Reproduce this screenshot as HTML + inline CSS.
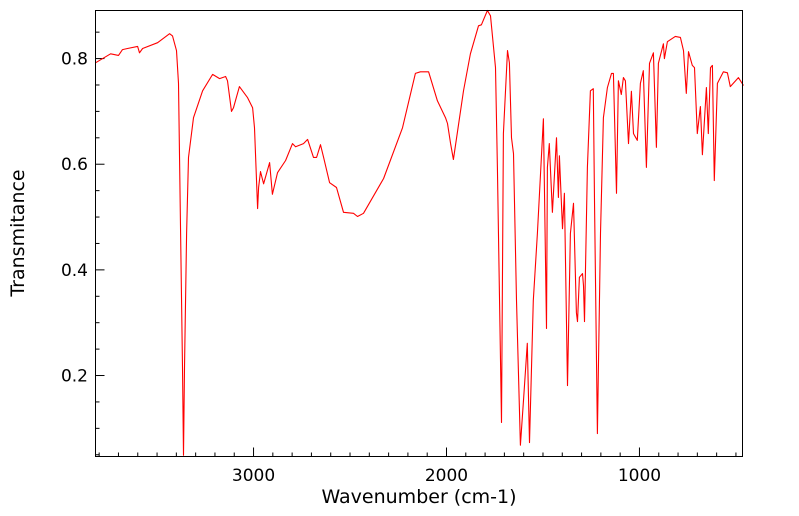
<!DOCTYPE html>
<html><head><meta charset="utf-8"><style>
html,body{margin:0;padding:0;background:#fff;}
svg{display:block;font-family:"DejaVu Sans","Liberation Sans",sans-serif;}
</style></head><body>
<svg id="chart" width="799" height="516">
<g id="ticks"></g>
<polyline id="line" fill="none" stroke="#ff0000" stroke-width="1.1" stroke-linejoin="round"></polyline>
<rect x="95.5" y="10.5" width="647" height="446" fill="none" stroke="#000" stroke-width="1"></rect>
<text x="419" y="503" font-size="19" text-anchor="middle">Wavenumber (cm-1)</text>
<text x="0" y="0" font-size="19" text-anchor="middle" transform="translate(24,233) rotate(-90)">Transmitance</text>
</svg>
<script>
const wavenumbers=[3819,3741,3700,3679,3653,3601,3591,3575,3497,3435,3420,3399,3389,3378,3368,3363,3358,3347,3337,3311,3264,3212,3176,3145,3135,3114,3104,3073,3031,3005,2995,2979,2974,2964,2948,2917,2902,2876,2834,2798,2782,2741,2720,2689,2673,2653,2637,2606,2570,2534,2482,2461,2430,2326,2228,2161,2135,2093,2047,2005,1995,1979,1964,1912,1876,1834,1819,1788,1772,1746,1736,1715,1705,1684,1674,1663,1653,1637,1617,1601,1581,1570,1550,1529,1498,1482,1477,1467,1451,1430,1420,1415,1399,1389,1373,1358,1342,1327,1321,1311,1295,1290,1285,1270,1254,1239,1233,1218,1202,1187,1166,1145,1135,1119,1109,1094,1083,1073,1057,1042,1031,1011,995,980,964,948,928,912,902,876,871,855,814,788,772,757,746,726,715,700,684,674,653,643,632,622,612,596,565,544,529,487,461];
const transmittance=[0.792,0.809,0.806,0.817,0.819,0.823,0.811,0.819,0.830,0.847,0.843,0.815,0.753,0.469,0.215,0.049,0.215,0.469,0.613,0.688,0.739,0.770,0.762,0.766,0.758,0.700,0.707,0.747,0.726,0.707,0.669,0.516,0.556,0.586,0.563,0.603,0.543,0.584,0.607,0.639,0.633,0.639,0.647,0.613,0.613,0.637,0.613,0.565,0.556,0.509,0.507,0.501,0.507,0.573,0.669,0.772,0.775,0.775,0.720,0.688,0.677,0.640,0.609,0.739,0.809,0.862,0.864,0.891,0.881,0.783,0.594,0.111,0.658,0.815,0.792,0.650,0.620,0.342,0.068,0.153,0.261,0.073,0.342,0.469,0.686,0.289,0.594,0.639,0.509,0.650,0.537,0.616,0.478,0.545,0.181,0.469,0.526,0.319,0.302,0.386,0.393,0.370,0.302,0.594,0.739,0.743,0.531,0.090,0.469,0.688,0.745,0.772,0.772,0.545,0.758,0.732,0.764,0.758,0.639,0.738,0.658,0.645,0.753,0.777,0.594,0.791,0.811,0.632,0.791,0.828,0.800,0.832,0.842,0.840,0.815,0.734,0.813,0.787,0.783,0.658,0.709,0.618,0.745,0.658,0.783,0.787,0.569,0.753,0.775,0.773,0.747,0.764,0.749];
const xTickLabels=[3000,2000,1000];
const yTickLabels=[0.2,0.4,0.6,0.8];
const xMin=3819,xMax=466,yMin=0.0467,yMax=0.891;
const L=95.5,R=742.5,T=10.5,B=456.5;
function xs(w){return L+(xMin-w)/(xMin-xMax)*(R-L);}
function ys(v){return B-(v-yMin)/(yMax-yMin)*(B-T);}
const NS="http://www.w3.org/2000/svg";
const line=document.getElementById('line');
line.setAttribute('points',wavenumbers.map((w,i)=>xs(w).toFixed(1)+","+ys(transmittance[i]).toFixed(1)).join(" "));
const g=document.getElementById('ticks');
function mk(tag,attrs){const e=document.createElementNS(NS,tag);for(const k in attrs)e.setAttribute(k,attrs[k]);g.appendChild(e);return e;}
for(let w=3800;w>=500;w-=100){
  const x=xs(w);const major=w%1000===0;
  const t=mk('line',{x1:x,x2:x,y1:B,y2:B-(major?9:4),stroke:'#000','stroke-width':1});
  
  
}
xTickLabels.forEach(v=>{
  const t=mk('text',{x:xs(v),y:481,'font-size':17,'text-anchor':'middle'});
  t.textContent=String(v);
  
  
});
for(let k=1;k<=17;k++){
  const v=k*0.05;const y=ys(v);const major=k%4===0;
  const t=mk('line',{x1:L,x2:L+(major?9:4),y1:y,y2:y,stroke:'#000','stroke-width':1});
  
  
}
yTickLabels.forEach(v=>{
  const t=mk('text',{x:88,y:ys(v)+6,'font-size':17,'text-anchor':'end'});
  t.textContent=v.toFixed(1);
  
  
});
</script>
</body></html>
